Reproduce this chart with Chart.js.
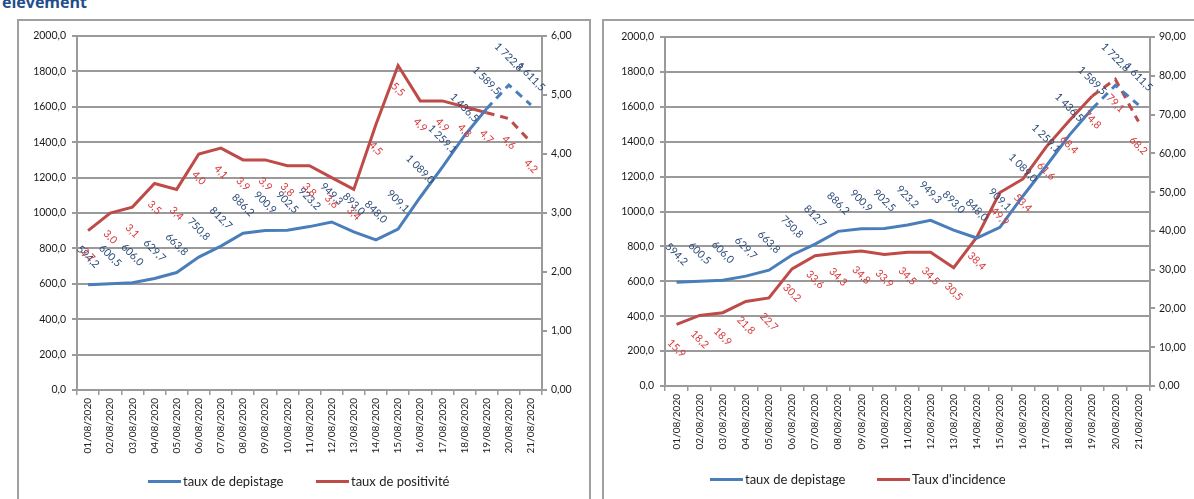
<!DOCTYPE html>
<html>
<head>
<meta charset="utf-8">
<script src="https://cdn.jsdelivr.net/npm/chart.js@4"></script>
<style>
  body { margin: 0; width: 1194px; height: 499px; overflow: hidden; background: #fff; font-family: Lato, "Open Sans", sans-serif; position: relative; }
  .panel { position: absolute; border: 2px solid #a0a0a0; box-sizing: border-box; }
  canvas { position: absolute; top: 0; }
  .title { position: absolute; left: 2px; top: -9px; font: bold 16px "Open Sans", sans-serif; color: #1f4e8c; }
  .sw { position: absolute; width: 33px; height: 3px; }
  .lt { position: absolute; font-size: 13px; color: #222; white-space: nowrap; line-height: 16px; }
</style>
</head>
<body>
<div class="title">élévement</div>
<div class="panel" style="left:17px; top:19px; width:574px; height:500px;"></div>
<div class="panel" style="left:602px; top:19px; width:600px; height:500px;"></div>
<canvas id="left-chart" width="590" height="499" style="left:0"></canvas>
<canvas id="right-chart" width="591" height="499" style="left:603px"></canvas>

<div class="sw" style="left:148px; top:480px; background:#4a7ebb"></div>
<div class="lt" style="left:183px; top:473px;">taux de depistage</div>
<div class="sw" style="left:316px; top:480px; background:#be4b48"></div>
<div class="lt" style="left:351px; top:473px;">taux de positivité</div>

<div class="sw" style="left:710px; top:478px; background:#4a7ebb"></div>
<div class="lt" style="left:745px; top:471px;">taux de depistage</div>
<div class="sw" style="left:877px; top:478px; background:#be4b48"></div>
<div class="lt" style="left:912px; top:471px;">Taux d'incidence</div>

<script>
const dates = ["01/08/2020", "02/08/2020", "03/08/2020", "04/08/2020", "05/08/2020", "06/08/2020", "07/08/2020",
  "08/08/2020", "09/08/2020", "10/08/2020", "11/08/2020", "12/08/2020", "13/08/2020", "14/08/2020",
  "15/08/2020", "16/08/2020", "17/08/2020", "18/08/2020", "19/08/2020", "20/08/2020", "21/08/2020"];
const depistage = [594.2, 600.5, 606.0, 629.7, 663.8, 750.8, 812.7, 886.2, 900.9, 902.5, 923.2,
  949.3, 893.0, 848.0, 909.1, 1089.0, 1259.1, 1436.5, 1589.5, 1722.8, 1611.5];
const positivite = [2.7, 3.0, 3.1, 3.5, 3.4, 4.0, 4.1, 3.9, 3.9, 3.8, 3.8,
  3.6, 3.4, 4.5, 5.5, 4.9, 4.9, 4.8, 4.7, 4.6, 4.2];
const incidence = [15.9, 18.2, 18.9, 21.8, 22.7, 30.2, 33.6, 34.3, 34.8, 33.9, 34.5,
  34.5, 30.5, 38.4, 49.9, 53.4, 61.6, 68.4, 74.8, 79.1, 68.2];

const BLUE = "#4a7ebb";
const RED = "#be4b48";
const GRID = "#9a9a9a";
const FONT = "Lato, 'Open Sans', sans-serif";

// last two points are projections, drawn dashed
const dashTail = { borderDash: (c) => c.p0DataIndex >= 18 ? [8, 6] : undefined };

function frNum(v, d) {
  const parts = v.toFixed(d).split(".");
  const int = parts[0].replace(/\B(?=(\d{3})+(?!\d))/g, " ");
  return d ? int + "," + parts[1] : int;
}

const valueLabels = {
  id: "valueLabels",
  afterDatasetsDraw(chart, args, opts) {
    const ctx = chart.ctx;
    chart.data.datasets.forEach((ds, i) => {
      const st = opts.styles[i];
      chart.getDatasetMeta(i).data.forEach((pt, j) => {
        ctx.save();
        ctx.translate(pt.x + st.dx, pt.y + st.dy);
        ctx.rotate(Math.PI / 4);
        ctx.font = "10.5px " + FONT;
        ctx.fillStyle = st.color;
        ctx.textAlign = "center";
        ctx.textBaseline = "middle";
        ctx.fillText(frNum(ds.data[j], 1), 0, 0);
        ctx.restore();
      });
    });
  }
};

function makeChart(id, box, second) {
  new Chart(document.getElementById(id), {
    type: "line",
    data: {
      labels: dates,
      datasets: [
        { data: depistage, borderColor: BLUE, borderWidth: 3, pointRadius: 0, tension: 0, yAxisID: "y", segment: dashTail },
        { data: second.values, borderColor: RED, borderWidth: 3, pointRadius: 0, tension: 0, yAxisID: "y2", segment: dashTail }
      ]
    },
    options: {
      responsive: false,
      animation: false,
      layout: { padding: { top: box.top, left: 0, right: 0, bottom: 0 } },
      plugins: {
        legend: { display: false },
        tooltip: { enabled: false },
        valueLabels: {
          styles: [
            { color: "#2c4a78", dx: 0, dy: -28 },
            { color: "#d8383a", dx: 0, dy: 24 }
          ]
        }
      },
      scales: {
        x: {
          offset: true,
          afterFit: (s) => { s.height = box.xHeight; },
          grid: { offset: true, drawOnChartArea: false, tickLength: 5, color: GRID, lineWidth: 1.5 },
          border: { color: GRID, width: 2 },
          ticks: { autoSkip: false, minRotation: 90, maxRotation: 90, padding: 3, color: "#222", font: { family: FONT, size: 10 } }
        },
        y: {
          min: 0, max: 2000,
          afterFit: (s) => { s.width = box.yWidth; },
          grid: { color: GRID, lineWidth: 2, tickLength: 5 },
          border: { color: GRID, width: 2 },
          ticks: { stepSize: 200, padding: 6, color: "#1a1a1a", font: { family: FONT, size: 10.5 }, callback: (v) => v.toFixed(1).replace(".", ",") }
        },
        y2: {
          position: "right",
          min: 0, max: second.max,
          afterFit: (s) => { s.width = box.y2Width; },
          grid: { drawOnChartArea: false, color: GRID, lineWidth: 2, tickLength: 5 },
          border: { color: GRID, width: 2 },
          ticks: { stepSize: second.step, padding: 4, color: "#1a1a1a", font: { family: FONT, size: 10.5 }, callback: (v) => v.toFixed(2).replace(".", ",") }
        }
      }
    },
    plugins: [valueLabels]
  });
}

makeChart("left-chart", { top: 36, xHeight: 109, yWidth: 77, y2Width: 48 }, { values: positivite, max: 6, step: 1 });
makeChart("right-chart", { top: 37, xHeight: 113, yWidth: 62, y2Width: 44 }, { values: incidence, max: 90, step: 10 });
</script>
</body>
</html>
